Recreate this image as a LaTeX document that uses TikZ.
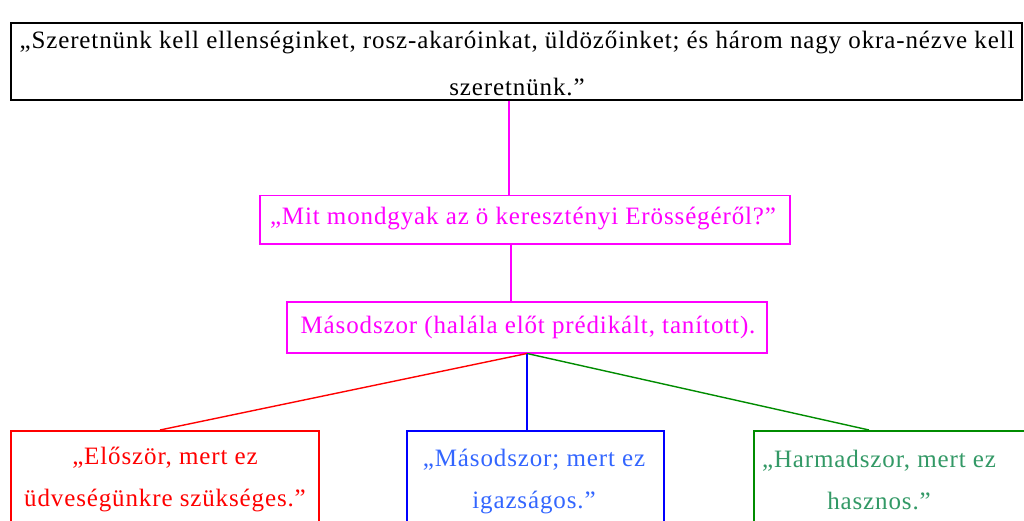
\documentclass[tikz,border=0pt]{standalone}
\usepackage{fontspec}
\setmainfont{Liberation Serif}[LetterSpace=3.5]
\definecolor{mag}{RGB}{255,0,255}
\definecolor{rd}{RGB}{255,0,0}
\definecolor{bl}{RGB}{0,0,255}
\definecolor{bltxt}{RGB}{51,102,255}
\definecolor{gr}{RGB}{0,140,0}
\definecolor{grtxt}{RGB}{51,153,102}
\begin{document}
\begin{tikzpicture}[x=1pt,y=1pt,
  boxshape/.style={draw, line width=1.5pt, inner sep=0pt, anchor=north west},
  txt/.style={font=\fontsize{25}{42}\selectfont, align=center, inner sep=0pt},
  conn/.style={line width=1.4pt}]
\clip (0,0) rectangle (1024,-521);
\fill[white] (0,0) rectangle (1024,-521);
% top box
\node[boxshape, draw=black, line width=1.7pt, minimum width=1011, minimum height=77] (top) at (10,-22) {};
\node[txt, font=\fontsize{25}{47}\selectfont] (toptxt) at (517,-63) {„Szeretnünk kell ellenséginket, rosz-akaróinkat, üldözőinket; és három nagy okra-nézve kell\\szeretnünk.”};
% box 2
\node[boxshape, draw=mag, minimum width=530, minimum height=48] (b2) at (259,-195) {};
\node[txt, text=mag] (b2txt) at (523,-219) {„Mit mondgyak az ö keresztényi Erösségéről?”};
% box 3
\node[boxshape, draw=mag, minimum width=480, minimum height=51] (b3) at (286,-301) {};
\node[txt, text=mag] (b3txt) at (528,-327) {Másodszor (halála előt prédikált, tanított).};
% bottom boxes
\node[boxshape, draw=rd, minimum width=308, minimum height=120] (r) at (10,-430) {};
\node[txt, text=rd] (rtxt) at (165,-480) {„Először, mert ez\\üdveségünkre szükséges.”};
\node[boxshape, draw=bl, minimum width=257, minimum height=120] (b) at (406,-430) {};
\node[txt, text=bltxt] (btxt) at (534,-482) {„Másodszor; mert ez\\igazságos.”};
\node[boxshape, draw=gr, minimum width=300, minimum height=120] (g) at (753,-430) {};
\node[txt, text=grtxt] (gtxt) at (879,-480) {„Harmadszor, mert ez\\hasznos.”};
% connectors
\coordinate (c1) at (509,0);
\coordinate (c2) at (511,0);
\coordinate (c3) at (527,0);
\coordinate (rc) at (160,0);
\coordinate (gc) at (869,0);
\draw[conn, mag] (top.south -| c1) -- (b2.north -| c1);
\draw[conn, mag] (b2.south -| c2) -- (b3.north -| c2);
\draw[conn, rd] (b3.south -| c3) -- (r.north -| rc);
\draw[conn, gr] (b3.south -| c3) -- (g.north -| gc);
\draw[conn, bl] (b3.south -| c3) -- (b.north -| c3);
\end{tikzpicture}
\end{document}
